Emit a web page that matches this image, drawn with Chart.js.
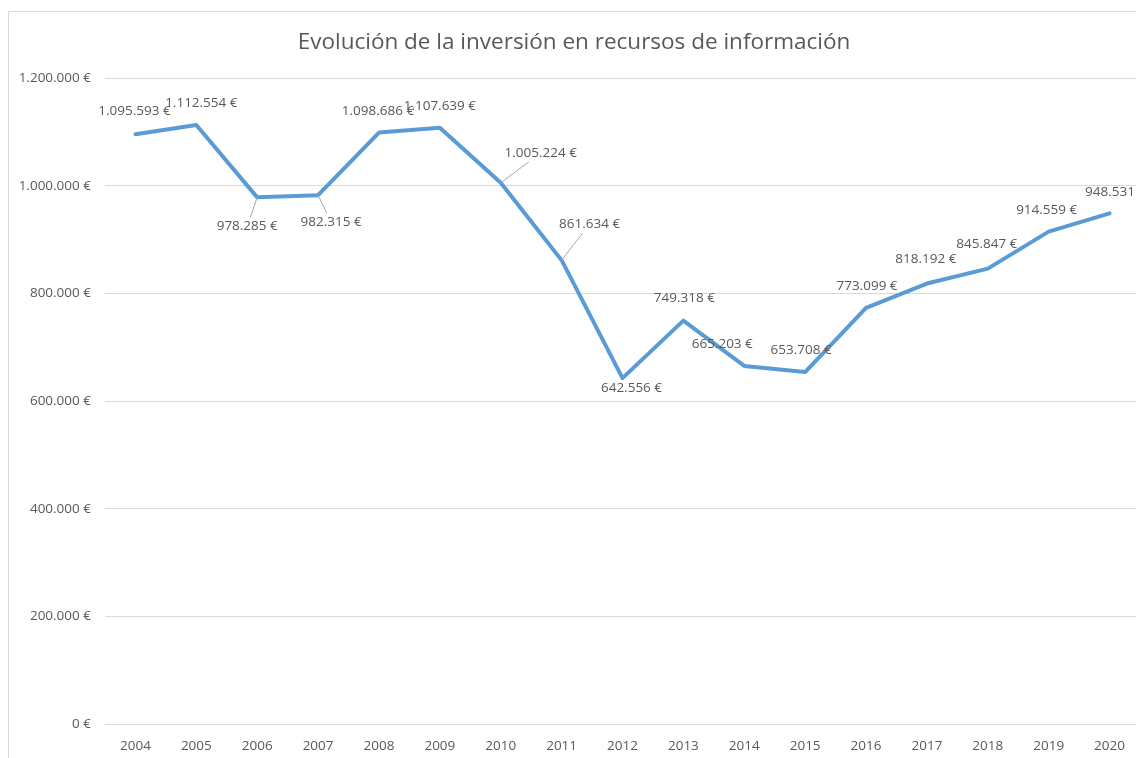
<!DOCTYPE html>
<html>
<head>
<meta charset="utf-8">
<script src="https://cdn.jsdelivr.net/npm/chart.js@4"></script>
<style>
  html, body { margin: 0; padding: 0; background: #fff; overflow: hidden; }
  #wrap { width: 1140px; height: 758px; }
</style>
</head>
<body>
<div id="wrap"><canvas id="investment-chart"></canvas></div>
<script>
// Chart data
const years = ['2004', '2005', '2006', '2007', '2008', '2009', '2010', '2011', '2012',
               '2013', '2014', '2015', '2016', '2017', '2018', '2019', '2020'];
const investment = [1095593, 1112554, 978285, 982315, 1098686, 1107639, 1005224, 861634, 642556,
                    749318, 665203, 653708, 773099, 818192, 845847, 914559, 948531];
const yMin = 0;
const yMax = 1200000;
const yStep = 200000;

// Data label placement (offset from the point) and which ones have a leader line
const labelOffsets = [[-1, -23], [5, -22], [-10, 29], [13, 27], [-1, -21], [0, -22], [40, -30],
                      [28, -36], [9, 10], [1, -22], [-22, -22], [-4, -22], [1, -22], [-1, -24],
                      [-1, -24], [-2, -22], [6, -21]];
const leaderLines = [2, 3, 6, 7];

const textColor = '#595959';
const fontFamily = "'Open Sans', 'Noto Sans', sans-serif";

function euro(v) {
    const s = Math.round(v).toString().replace(/\B(?=(\d{3})+(?!\d))/g, '.');
    return s + ' €';
}

// Outer chart frame
const framePlugin = {
    id: 'frame',
    beforeDraw(chart) {
        const ctx = chart.ctx;
        ctx.save();
        ctx.strokeStyle = '#D9D9D9';
        ctx.lineWidth = 1;
        ctx.strokeRect(8.5, 11.5, chart.width + 20, chart.height + 20);
        ctx.restore();
    }
};

// Data labels with optional leader lines
const labelPlugin = {
    id: 'pointLabels',
    afterDatasetsDraw(chart) {
        const ctx = chart.ctx;
        const meta = chart.getDatasetMeta(0);
        ctx.save();
        ctx.font = '13.5px ' + fontFamily;
        ctx.textAlign = 'center';
        ctx.textBaseline = 'middle';
        meta.data.forEach((pt, i) => {
            const text = euro(investment[i]);
            const [dx, dy] = labelOffsets[i];
            const lx = pt.x + dx;
            const ly = pt.y + dy;
            if (leaderLines.includes(i)) {
                const hw = ctx.measureText(text).width / 2 + 2;
                const hh = 9;
                const s = Math.min(hw / Math.abs(dx || 1e-6), hh / Math.abs(dy || 1e-6));
                ctx.strokeStyle = '#A6A6A6';
                ctx.lineWidth = 1;
                ctx.beginPath();
                ctx.moveTo(pt.x, pt.y);
                ctx.lineTo(pt.x + dx * (1 - s), pt.y + dy * (1 - s));
                ctx.stroke();
            }
            ctx.fillStyle = textColor;
            ctx.fillText(text, lx, ly);
        });
        ctx.restore();
    }
};

const ctx = document.getElementById('investment-chart').getContext('2d');
new Chart(ctx, {
    type: 'line',
    data: {
        labels: years,
        datasets: [{
            label: 'Inversión',
            data: investment,
            borderColor: '#5B9BD5',
            backgroundColor: '#5B9BD5',
            borderWidth: 4,
            borderCapStyle: 'round',
            borderJoinStyle: 'round',
            pointRadius: 0,
            tension: 0,
            fill: false
        }]
    },
    options: {
        responsive: true,
        maintainAspectRatio: false,
        animation: false,
        layout: { padding: { left: 8, right: 0, top: 0, bottom: 0 } },
        plugins: {
            legend: { display: false },
            tooltip: { enabled: false },
            title: {
                display: true,
                text: 'Evolución de la inversión en recursos de información',
                color: textColor,
                font: { family: fontFamily, size: 22.5, weight: 'normal' },
                padding: { top: 29, bottom: 22 }
            }
        },
        scales: {
            x: {
                offset: true,
                grid: { display: false },
                border: { display: false },
                ticks: {
                    color: textColor,
                    font: { family: fontFamily, size: 13.5 },
                    padding: 6,
                    maxRotation: 0
                },
                afterFit(scale) { scale.height = 34; }
            },
            y: {
                min: yMin,
                max: yMax,
                grid: { color: '#D9D9D9', drawTicks: false },
                border: { display: false },
                ticks: {
                    stepSize: yStep,
                    color: textColor,
                    font: { family: fontFamily, size: 13.5 },
                    padding: 14,
                    callback: value => euro(value)
                },
                afterFit(scale) { scale.width = 97; }
            }
        }
    },
    plugins: [framePlugin, labelPlugin]
});
</script>
</body>
</html>
